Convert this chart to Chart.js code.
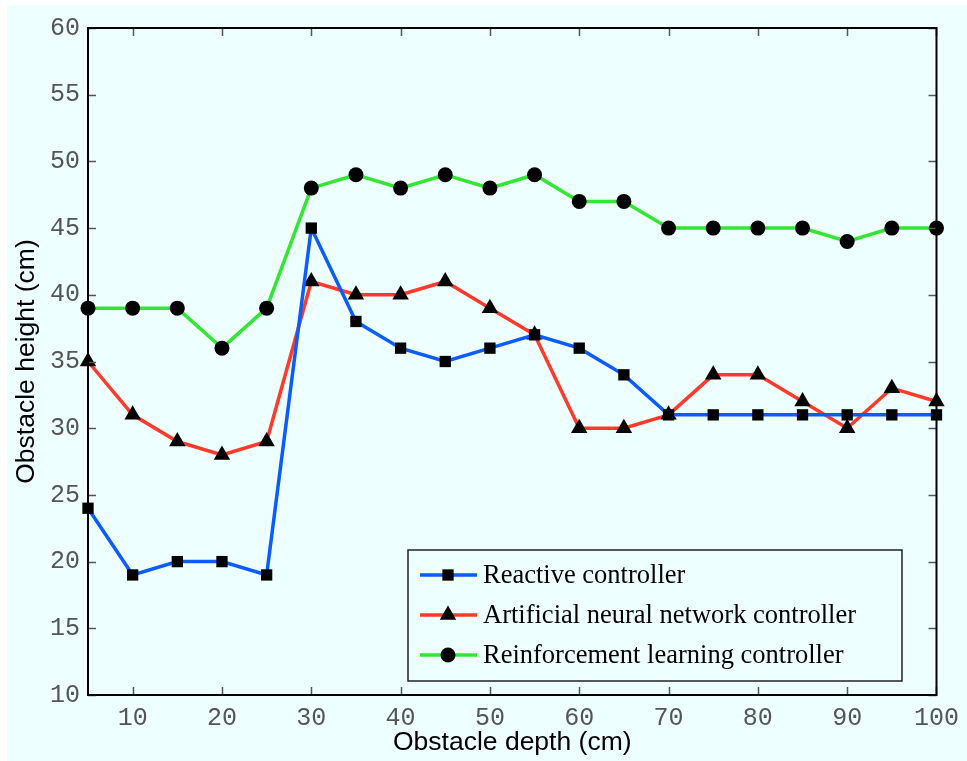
<!DOCTYPE html>
<html>
<head>
<meta charset="utf-8">
<script src="https://cdn.jsdelivr.net/npm/chart.js@4.4.1/dist/chart.umd.min.js"></script>
<style>
    html, body { margin: 0; padding: 0; background: #ffffff; }
    #wrap { position: absolute; left: 7px; top: 5px; width: 960px; height: 756px; background: #eeffff; }
</style>
</head>
<body>
<div id="wrap"><canvas id="chart" width="960" height="756"></canvas></div>
<script>
const depths = [5, 10, 15, 20, 25, 30, 35, 40, 45, 50, 55, 60, 65, 70, 75, 80, 85, 90, 95, 100];
const reactive = [24, 19, 20, 20, 19, 45, 38, 36, 35, 36, 37, 36, 34, 31, 31, 31, 31, 31, 31, 31];
const neural = [35, 31, 29, 28, 29, 41, 40, 40, 41, 39, 37, 30, 30, 31, 34, 34, 32, 30, 33, 32];
const reinforcement = [39, 39, 39, 36, 39, 48, 49, 48, 49, 48, 49, 47, 47, 45, 45, 45, 45, 44, 45, 45];
const xTicks = [10, 20, 30, 40, 50, 60, 70, 80, 90, 100];
const yTicks = [10, 15, 20, 25, 30, 35, 40, 45, 50, 55, 60];
const seriesNames = ['Reactive controller', 'Artificial neural network controller', 'Reinforcement learning controller'];

const toPoints = vals => vals.map((v, i) => ({ x: depths[i], y: v }));

// inward ticks, frame and the boxed legend, drawn like the matlab figure
const framePlugin = {
    id: 'frame',
    afterDraw(chart) {
        const { ctx, chartArea: a, scales } = chart;
        ctx.save();
        ctx.strokeStyle = '#555';
        ctx.lineWidth = 1.5;
        const tl = 8;
        xTicks.forEach(t => {
            const px = Math.round(scales.x.getPixelForValue(t)) + 0.5;
            ctx.beginPath();
            ctx.moveTo(px, a.bottom); ctx.lineTo(px, a.bottom - tl);
            ctx.moveTo(px, a.top); ctx.lineTo(px, a.top + tl);
            ctx.stroke();
        });
        yTicks.forEach(t => {
            const py = Math.round(scales.y.getPixelForValue(t)) + 0.5;
            ctx.beginPath();
            ctx.moveTo(a.left, py); ctx.lineTo(a.left + tl, py);
            ctx.moveTo(a.right, py); ctx.lineTo(a.right - tl, py);
            ctx.stroke();
        });
        ctx.strokeStyle = '#000';
        ctx.lineWidth = 2;
        ctx.strokeRect(a.left, a.top, a.right - a.left, a.bottom - a.top);

        // legend box
        const bx = a.left + 320, by = a.top + 522, bw = 494, bh = 131;
        ctx.fillStyle = '#eeffff';
        ctx.fillRect(bx, by, bw, bh);
        ctx.strokeStyle = '#222';
        ctx.lineWidth = 1.5;
        ctx.strokeRect(bx, by, bw, bh);
        ctx.font = '26.5px "Liberation Serif", serif';
        ctx.textBaseline = 'middle';
        chart.data.datasets.forEach((ds, i) => {
            const cy = by + 25 + i * 40;
            ctx.strokeStyle = ds.borderColor;
            ctx.lineWidth = 3.5;
            ctx.beginPath();
            ctx.moveTo(bx + 12, cy); ctx.lineTo(bx + 69, cy);
            ctx.stroke();
            ctx.fillStyle = '#000';
            ctx.strokeStyle = '#000';
            Chart.helpers.drawPoint(ctx, {
                pointStyle: ds.pointStyle,
                radius: ds.pointRadius,
                rotation: 0,
                borderWidth: 0
            }, bx + 40, cy);
            ctx.fillText(ds.label, bx + 75, cy + 1);
        });
        ctx.restore();
    }
};

function makeSet(label, vals, color, style, r) {
    return {
        label: label,
        data: toPoints(vals),
        borderColor: color,
        borderWidth: 3.5,
        backgroundColor: '#000',
        pointBackgroundColor: '#000',
        pointBorderColor: '#000',
        pointBorderWidth: 0,
        pointStyle: style,
        pointRadius: r,
        pointHoverRadius: r,
        tension: 0
    };
}

const ctx = document.getElementById('chart').getContext('2d');
new Chart(ctx, {
    type: 'line',
    data: {
        datasets: [
            makeSet(seriesNames[0], reactive, '#0a5cff', 'rect', 8),
            makeSet(seriesNames[1], neural, '#ff3a2a', 'triangle', 9.5),
            makeSet(seriesNames[2], reinforcement, '#33e633', 'circle', 7.5)
        ]
    },
    options: {
        responsive: false,
        animation: false,
        clip: false,
        layout: { padding: { top: 20, right: 30, left: 0, bottom: 0 } },
        plugins: {
            legend: { display: false },
            tooltip: { enabled: false }
        },
        scales: {
            x: {
                type: 'linear',
                min: 5,
                max: 100,
                afterBuildTicks: s => { s.ticks = xTicks.map(v => ({ value: v })); },
                afterFit: s => { s.height = 66; },
                grid: { display: false, drawTicks: false },
                border: { display: false },
                ticks: {
                    padding: 8,
                    maxRotation: 0,
                    color: '#555',
                    font: { family: '"Liberation Mono", monospace', size: 25 }
                },
                title: {
                    display: true,
                    text: 'Obstacle depth (cm)',
                    color: '#000',
                    padding: { top: 0, bottom: 2 },
                    font: { family: '"Liberation Sans", Arial, sans-serif', size: 26.5 }
                }
            },
            y: {
                min: 10,
                max: 60,
                afterBuildTicks: s => { s.ticks = yTicks.map(v => ({ value: v })); },
                afterFit: s => { s.width = 81; },
                grid: { display: false, drawTicks: false },
                border: { display: false },
                ticks: {
                    padding: 8,
                    color: '#555',
                    font: { family: '"Liberation Mono", monospace', size: 25 }
                },
                title: {
                    display: true,
                    text: 'Obstacle height (cm)',
                    color: '#000',
                    padding: { top: 4, bottom: 0 },
                    font: { family: '"Liberation Sans", Arial, sans-serif', size: 26.5 }
                }
            }
        }
    },
    plugins: [framePlugin]
});
</script>
</body>
</html>
